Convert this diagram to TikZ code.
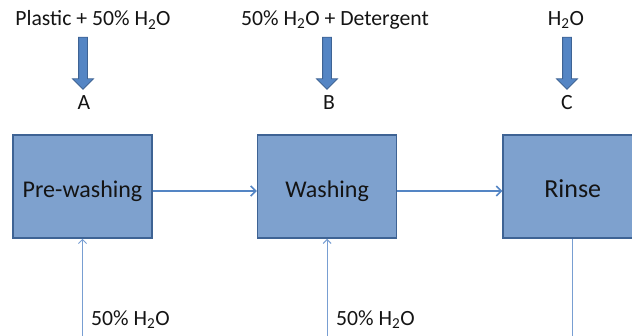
\documentclass[tikz,border=0pt]{standalone}
\usepackage{fontspec}
\setmainfont{Carlito}
\usetikzlibrary{positioning,shapes.arrows,arrows.meta}
\definecolor{boxfill}{RGB}{126,161,206}
\definecolor{boxline}{RGB}{62,99,148}
\definecolor{flowline}{RGB}{84,133,196}
\definecolor{feedline}{RGB}{120,158,210}
\definecolor{textgray}{RGB}{20,20,20}
\begin{document}
\begin{tikzpicture}[x=1pt,y=-1pt,
  box/.style={ draw=boxline, line width=1.6pt, fill=boxfill, minimum width=139pt, minimum height=103pt, inner sep=0pt, text height=26pt, text depth=4.5pt, font=\fontsize{24}{26}\selectfont, text=textgray },
  lbl/.style={ inner sep=0pt, font=\fontsize{21.7}{24}\selectfont, text=textgray },
  blockarrow/.style={ shape=single arrow, draw=boxline, line width=0.8pt, fill=flowline, rotate=-90, inner sep=4pt, minimum width=20pt, minimum height=52pt, single arrow head extend=6pt },
  flow/.style={ draw=flowline, line width=1.6pt, -{Straight Barb[length=5pt,width=10pt]} },
  feed/.style={ draw=feedline, line width=1pt }]%
%
\useasboundingbox (0,0) rectangle (632,335);
\clip (0,0) rectangle (632,335);
%
% process boxes
\node[ box ] (pre) at (82.5,186.5) {Pre-washing};
\node[ box, right=104pt of pre ] (wash) {Washing};
\node[ box, right=105pt of wash, font=\fontsize{26}{28}\selectfont ] (rinse) {Rinse};
%
% inputs at the top
\node[ lbl ] (topA) at (93,20) {Plastic + 50\% H\textsubscript{2}O};
\node[ lbl ] (topB) at (335,20) {50\% H\textsubscript{2}O + Detergent};
\node[ lbl ] (topC) at (566,20) {H\textsubscript{2}O};
%
\node[ blockarrow ] (arrA) at (83,61) {};
\node[ blockarrow ] (arrB) at (327,61) {};
\node[ blockarrow ] (arrC) at (567,61) {};
%
\node[ lbl ] (A) at (84,103) {A};
\node[ lbl ] (B) at (329,103) {B};
\node[ lbl ] (C) at (567,103) {C};
%
% main line
\draw[ flow ] ([yshift=-4.5pt]pre.east) -- ([yshift=-4.5pt]wash.west);
\draw[ flow ] ([yshift=-4.5pt]wash.east) -- ([yshift=-4.5pt]rinse.west);
%
% water fed from below
\coordinate (inA) at (pre.south |- 0,340);
\coordinate (inB) at (wash.south |- 0,340);
\coordinate (outC) at (rinse.south |- 0,340);
\draw[ feed, -{Straight Barb[length=4pt,width=8pt]} ] (inA) -- (pre.south);
\draw[ feed, -{Straight Barb[length=4pt,width=8pt]} ] (inB) -- (wash.south);
\draw[ feed ] (rinse.south) -- (outC);
%
\node[ lbl, anchor=west ] (feedA) at (91,320) {50\% H\textsubscript{2}O};
\node[ lbl, anchor=west ] (feedB) at (336,320) {50\% H\textsubscript{2}O};
%
\end{tikzpicture}
\end{document}
